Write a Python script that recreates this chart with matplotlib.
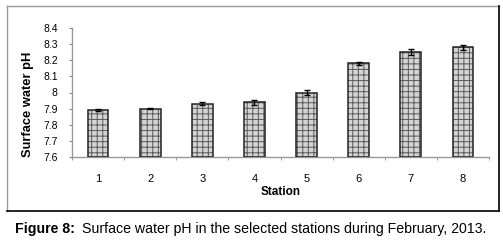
import matplotlib
matplotlib.use("Agg")
import matplotlib.pyplot as plt
from matplotlib.lines import Line2D
import numpy as np

plt.rcParams['font.family'] = ['Liberation Sans', 'DejaVu Sans']
plt.rcParams['hatch.linewidth'] = 0.7
plt.rcParams['hatch.color'] = '#5a5a5a'

stations = ['1', '2', '3', '4', '5', '6', '7', '8']
ph_values = [7.89, 7.90, 7.93, 7.94, 8.00, 8.18, 8.25, 8.28]
ph_errors = [0.006, 0.005, 0.008, 0.015, 0.016, 0.008, 0.017, 0.017]
yticks = [7.6, 7.7, 7.8, 7.9, 8.0, 8.1, 8.2, 8.3, 8.4]
ytick_labels = ['7.6', '7.7', '7.8', '7.9', '8', '8.1', '8.2', '8.3', '8.4']

fig = plt.figure(figsize=(5.03, 2.41), dpi=100)
ax = fig.add_axes([72/503, 1-157/241, (489-72)/503, (157-28)/241])

x = np.arange(len(stations))
ax.bar(x, [v - 7.6 for v in ph_values], bottom=7.6, width=0.4,
       color='#d4d4d4', hatch='+++', edgecolor='#5a5a5a', linewidth=0, zorder=2)
ax.bar(x, [v - 7.6 for v in ph_values], bottom=7.6, width=0.4,
       fill=False, edgecolor='#222222', linewidth=1.1, zorder=3)
ax.errorbar(x, ph_values, yerr=ph_errors, fmt='none', ecolor='black',
            elinewidth=1.0, capsize=2.5, capthick=1.0, zorder=4)

ax.set_xlim(-0.5, len(stations) - 0.5)
ax.set_ylim(7.6, 8.4)
ax.set_yticks(yticks)
ax.set_yticklabels(ytick_labels)
ax.set_xticks(x)
ax.set_xticklabels(stations)
ax.set_xticks(np.arange(-0.5, len(stations)), minor=True)
ax.tick_params(axis='x', which='major', length=0, pad=12, labelsize=8)
ax.tick_params(axis='x', which='minor', length=2.5, color='#888888', direction='out')
ax.tick_params(axis='y', length=2.2, color='#888888', labelsize=7.5, pad=8)

for s in ['top', 'right']:
    ax.spines[s].set_visible(False)
for s in ['left', 'bottom']:
    ax.spines[s].set_color('#999999')
    ax.spines[s].set_linewidth(1.0)

ax.set_ylabel('Surface water pH', fontsize=9.3, fontweight='bold')
ax.yaxis.set_label_coords(-0.092, 0.41)
ax.set_xlabel('Station', fontsize=8.5, fontweight='bold', labelpad=2)

# outer frame
L, R, T, B = 7/503, 499/503, 1-6/241, 1-211/241
fig.add_artist(Line2D([L, R], [T, T], color='#999999', lw=1.0, transform=fig.transFigure))
fig.add_artist(Line2D([L, L], [B, T], color='#999999', lw=1.0, transform=fig.transFigure))
fig.add_artist(Line2D([R, R], [B, T], color='black', lw=1.2, transform=fig.transFigure))
fig.add_artist(Line2D([L, R], [B, B], color='black', lw=1.2, transform=fig.transFigure))

fig.text(15/503, 1-229/241, 'Figure 8:', fontsize=10.2, fontweight='bold', va='center', ha='left')
fig.text(82/503, 1-229/241, 'Surface water pH in the selected stations during February, 2013.',
         fontsize=10.2, va='center', ha='left')

fig.savefig('out.png', dpi=100)
